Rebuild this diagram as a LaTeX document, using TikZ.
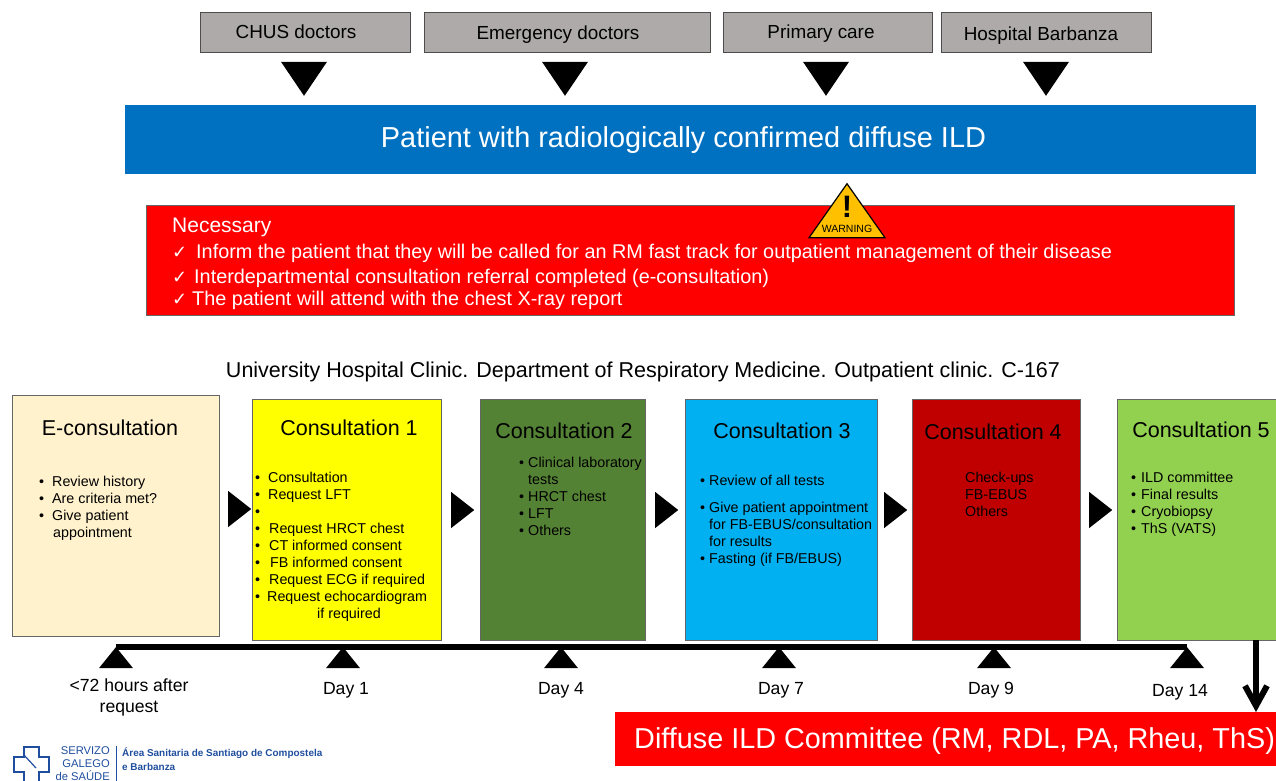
\documentclass[tikz,border=0pt]{standalone}
\usepackage{fontspec}
\usepackage{xcolor}
\setmainfont{Liberation Sans}
\newfontfamily\checkfont{DejaVu Sans}
\usetikzlibrary{positioning,shapes.geometric,arrows.meta}
\definecolor{sourcegray}{HTML}{AEAAAA}
\definecolor{patientblue}{HTML}{0070C0}
\definecolor{econscream}{HTML}{FFF2CC}
\definecolor{consyellow}{RGB}{255,255,0}
\definecolor{constgreen}{HTML}{548235}
\definecolor{consblue}{HTML}{00B0F0}
\definecolor{consdarkred}{HTML}{C00000}
\definecolor{conslime}{HTML}{92D050}
\definecolor{warnyellow}{HTML}{FFC000}
\definecolor{logoblue}{HTML}{1F4E9E}
\newcommand{\chk}[1]{\makebox[#1][l]{\checkfont\fontsize{18}{18}\selectfont ✓}}
\begin{document}
\begin{tikzpicture}[
            x=1pt, y=-1pt,
            box/.style={rectangle, anchor=north west, inner sep=0pt, outer sep=0pt},
            sourcebox/.style={box, draw=black!70, thin, fill=sourcegray, minimum height=40pt},
            sourcetext/.style={anchor=base, inner sep=0pt, font=\fontsize{18.9}{20}\selectfont},
            consbox/.style={box, draw=black!60, thin, minimum height=241pt},
            constitle/.style={font=\fontsize{21.5}{24}\selectfont, inner sep=0pt},
            conslist/.style={anchor=north west, align=left, inner sep=0pt, font=\fontsize{14.3}{17}\selectfont},
            downtri/.style={isosceles triangle, isosceles triangle stretches, shape border rotate=-90, fill=black, inner sep=0pt, minimum width=46pt, minimum height=34pt},
            righttri/.style={isosceles triangle, isosceles triangle stretches, fill=black, inner sep=0pt, minimum width=36pt, minimum height=23pt},
            uptri/.style={isosceles triangle, isosceles triangle stretches, shape border rotate=90, fill=black, inner sep=0pt, minimum width=34pt, minimum height=21pt},
            daylabel/.style={font=\fontsize{17.6}{21}\selectfont, align=center, inner sep=0pt},
            necline/.style={anchor=west, inner sep=0pt, text=white, font=\fontsize{19.85}{22}\selectfont}
        ]
            \useasboundingbox (0,0) rectangle (1276,780);
            % Referring services
            \node[sourcebox, minimum width=210pt] (chus) at (200,12) {};
            \node[sourcebox, minimum width=286pt] (emerg) at (424,12) {};
            \node[sourcebox, minimum width=209pt] (primary) at (723,12) {};
            \node[sourcebox, minimum width=210pt] (barbanza) at (941,12) {};
            \node[sourcetext] (chustext) at (296,38.5) {CHUS doctors};
            \node[sourcetext] (emergtext) at (558,39.5) {Emergency doctors};
            \node[sourcetext] (primarytext) at (821,38.5) {Primary care};
            \node[sourcetext] (barbanzatext) at (1041,40) {Hospital Barbanza};
            \node[downtri] (d1) at (304,74) {};
            \node[downtri] (d2) at (565,74) {};
            \node[downtri] (d3) at (826,74) {};
            \node[downtri] (d4) at (1046,74) {};
            % Patient and requirements
            \node[box, fill=patientblue, minimum width=1131pt, minimum height=69pt] (patient) at (125,105) {};
            \node[inner sep=0pt, text=white, font=\fontsize{28.9}{30}\selectfont] (patienttext) at (683.5,140) {Patient with radiologically confirmed diffuse ILD};
            \node[box, draw=black!60, thin, fill=red, minimum width=1088pt, minimum height=110pt] (necessary) at (146,205) {};
            \node[necline, font=\fontsize{21}{22}\selectfont] (nec0) at (172,227) {Necessary};
            \node[necline] (nec1) at (172,253) {\chk{24pt}Inform the patient that they will be called for an RM fast track for outpatient management of their disease};
            \node[necline] (nec2) at (172,278) {\chk{22pt}Interdepartmental consultation referral completed (e-consultation)};
            \node[necline] (nec3) at (172,300) {\chk{20pt}The patient will attend with the chest X-ray report};
            \node[isosceles triangle, isosceles triangle stretches, shape border rotate=90, draw=black, line width=1.2pt, fill=warnyellow, inner sep=0pt, minimum width=76pt, minimum height=54pt] (warn) at (847,218) {};
            \node[inner sep=0pt, font=\bfseries\fontsize{31}{31}\selectfont] (warnmark) at (847,207) {!};
            \node[inner sep=0pt, font=\fontsize{10.5}{12}\selectfont] (warntext) at (847,229) {WARNING};
            % Clinic
            \node[inner sep=0pt, font=\fontsize{21.5}{24}\selectfont] (clinic) at (643,372) {University Hospital Clinic. Department of Respiratory Medicine. Outpatient clinic. C-167};
            % Consultations
            \node[consbox, fill=econscream, minimum width=207pt] (econs) at (12,395) {};
            \node[consbox, fill=consyellow, minimum width=189pt] (cons1) at (252,399) {};
            \node[consbox, fill=constgreen, minimum width=165pt] (cons2) at (480,399) {};
            \node[consbox, fill=consblue, minimum width=192pt] (cons3) at (685,399) {};
            \node[consbox, fill=consdarkred, minimum width=168pt] (cons4) at (912,399) {};
            \node[consbox, fill=conslime, minimum width=170pt] (cons5) at (1117,399) {};
            \node[constitle] (econstitle) at (110,428) {E-consultation};
            \node[constitle] (cons1title) at (349,428) {Consultation 1};
            \node[constitle] (cons2title) at (564,431) {Consultation 2};
            \node[constitle] (cons3title) at (782,431) {Consultation 3};
            \node[constitle] (cons4title) at (993,432) {Consultation 4};
            \node[constitle] (cons5title) at (1201,430) {Consultation 5};
            \node[conslist] (econslist) at (39,476) {•\hspace{8pt}Review history\\•\hspace{8pt}Are criteria met?\\•\hspace{8pt}Give patient\\\hspace{14pt}appointment};
            \node[conslist] (cons1list) at (255,472) {•\hspace{8pt}Consultation\\•\hspace{8pt}Request LFT\\•\\•\hspace{9pt}Request HRCT chest\\•\hspace{9pt}CT informed consent\\•\hspace{10pt}FB informed consent\\•\hspace{9pt}Request ECG if required\\•\hspace{7pt}Request echocardiogram\\\hspace{62pt}if required};
            \node[conslist] (cons2list) at (519,457) {•\hspace{4pt}Clinical laboratory\\\hspace{9pt}tests\\•\hspace{4pt}HRCT chest\\•\hspace{4pt}LFT\\•\hspace{4pt}Others};
            \node[conslist] (cons3list) at (700,475) {•\hspace{4pt}Review of all tests\\[10pt]•\hspace{4pt}Give patient appointment\\\hspace{9pt}for FB-EBUS/consultation\\\hspace{9pt}for results\\•\hspace{4pt}Fasting (if FB/EBUS)};
            \node[conslist] (cons4list) at (965,472) {Check-ups\\FB-EBUS\\Others};
            \node[conslist] (cons5list) at (1131,472) {•\hspace{5pt}ILD committee\\•\hspace{5pt}Final results\\•\hspace{5pt}Cryobiopsy\\•\hspace{5pt}ThS (VATS)};
            % Steps between consultations
            \node[righttri] (r1) at (237,509) {};
            \node[righttri] (r2) at (460,510) {};
            \node[righttri] (r3) at (664,510) {};
            \node[righttri] (r4) at (893,510) {};
            \node[righttri] (r5) at (1098,510) {};
            % Timeline
            \node[uptri] (t0) at (116,660) {};
            \node[uptri] (t1) at (343,660) {};
            \node[uptri] (t2) at (561,660) {};
            \node[uptri] (t3) at (779,660) {};
            \node[uptri] (t4) at (994,660) {};
            \node[uptri] (t5) at (1187,660) {};
            \draw[line width=6pt] (t0.apex) -- (t5.apex);
            \node[daylabel] (l0) at (129,697) {<72 hours after\\request};
            \node[daylabel] (l1) at (346,690) {Day 1};
            \node[daylabel] (l2) at (561,690) {Day 4};
            \node[daylabel] (l3) at (781,690) {Day 7};
            \node[daylabel] (l4) at (991,690) {Day 9};
            \node[daylabel] (l5) at (1180,692) {Day 14};
            % Committee
            \node[box, fill=red, minimum width=665pt, minimum height=54pt] (committee) at (615,712) {};
            \node[anchor=west, inner sep=0pt, text=white, font=\fontsize{28.8}{30}\selectfont] (committeetext) at (634,741) {Diffuse ILD Committee (RM, RDL, PA, Rheu, ThS)};
            \coordinate (cons5out) at (1256,640);
            \draw[line width=6pt, -{Straight Barb[length=20pt,width=22pt]}] (cons5out) -- (cons5out |- committee.north);
            % Logo
            \draw[logoblue, line width=1.6pt] (24,747) -- (39,747) -- (39,757) -- (49,757) -- (49,772) -- (39,772) -- (39,782) -- (24,782) -- (24,772) -- (14,772) -- (14,757) -- (24,757) -- cycle;
            \draw[logoblue, line width=1.2pt] (24,755) -- (36,768);
            \node[anchor=north east, align=right, inner sep=0pt, text=logoblue, font=\fontsize{11.2}{13}\selectfont] (logotext) at (110,746) {SERVIZO\\GALEGO\\de SAÚDE};
            \node[anchor=north west, align=left, inner sep=0pt, text=logoblue, font=\bfseries\fontsize{9.95}{14.5}\selectfont] (logoarea) at (122,747) {Área Sanitaria de Santiago de Compostela\\e Barbanza};
            \draw[logoblue, thin] (116,746) -- (116,782);
        \end{tikzpicture}
\end{document}
